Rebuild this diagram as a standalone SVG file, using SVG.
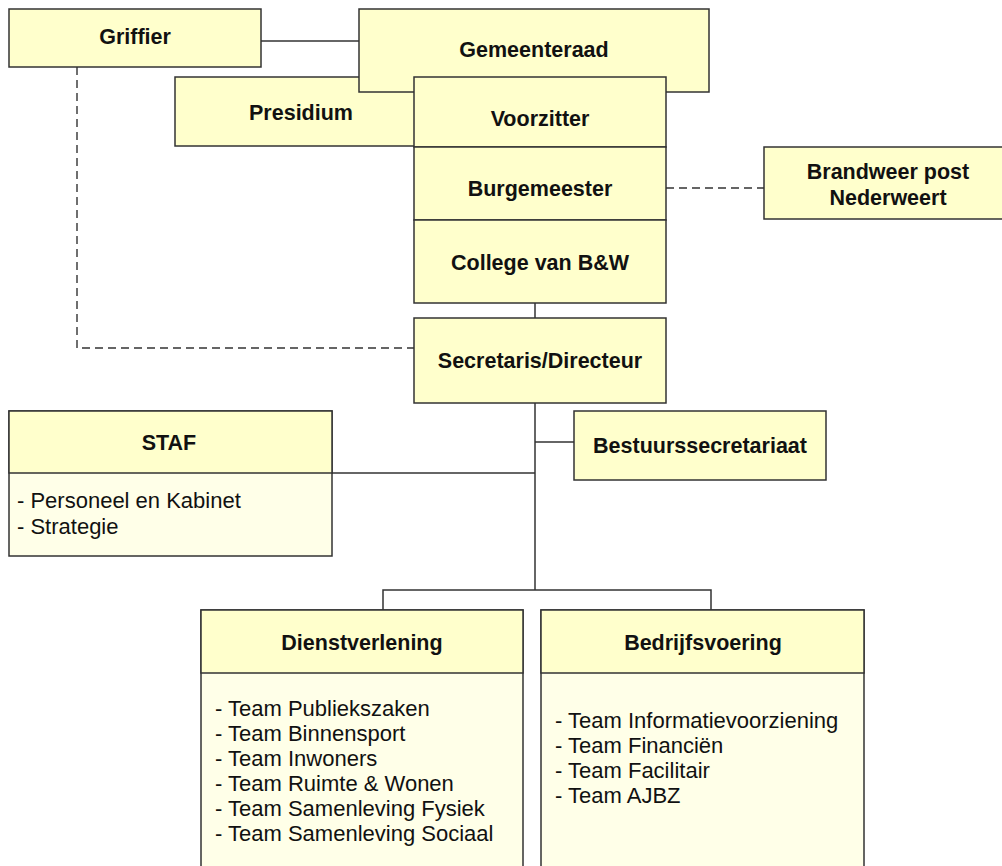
<svg xmlns="http://www.w3.org/2000/svg" width="1002" height="866" viewBox="0 0 1002 866">
<style>
.box{fill:#FFFFCC;stroke:#333;stroke-width:1.5}
.body{fill:#FFFFE8;stroke:#333;stroke-width:1.5}
.t{font-family:"Liberation Sans",Arial,sans-serif;font-size:21.5px;font-weight:bold;fill:#111;text-anchor:middle}
.l{font-family:"Liberation Sans",Arial,sans-serif;font-size:22px;fill:#111}
.c{fill:none;stroke:#333;stroke-width:1.5}
.d{fill:none;stroke:#333;stroke-width:1.4;stroke-dasharray:8,5}
</style>
<rect width="1002" height="866" fill="#fff"/>
<g id="connectors">
<line class="c" x1="261" y1="41" x2="359" y2="41"/>
<path class="d" d="M77,67 V348 H414"/>
<line class="d" x1="666" y1="188" x2="764" y2="188"/>
<line class="c" x1="535" y1="303" x2="535" y2="318"/>
<line class="c" x1="535" y1="403" x2="535" y2="590"/>
<line class="c" x1="332" y1="473" x2="535" y2="473"/>
<line class="c" x1="535" y1="442" x2="574" y2="442"/>
<path class="c" d="M383,610 V590 H711 V610"/>
</g>
<g id="griffier">
<rect class="box" x="9" y="9" width="252" height="58"/>
<text class="t" x="135" y="44">Griffier</text>
</g>
<g id="presidium">
<rect class="box" x="175" y="77" width="255" height="69"/>
<text class="t" x="301" y="119.5">Presidium</text>
</g>
<g id="gemeenteraad">
<rect class="box" x="359" y="9" width="350" height="83"/>
<text class="t" x="534" y="57">Gemeenteraad</text>
</g>
<g id="voorzitter">
<rect class="box" x="414" y="77" width="252" height="70"/>
<text class="t" x="540" y="125.5">Voorzitter</text>
</g>
<g id="burgemeester">
<rect class="box" x="414" y="147" width="252" height="73"/>
<text class="t" x="540" y="195.5">Burgemeester</text>
</g>
<g id="college">
<rect class="box" x="414" y="220" width="252" height="83"/>
<text class="t" x="540" y="269.5">College van B&amp;W</text>
</g>
<g id="brandweer">
<rect class="box" x="764" y="147" width="245" height="72"/>
<text class="t" x="888" y="178.5">Brandweer post</text>
<text class="t" x="888" y="204.5">Nederweert</text>
</g>
<g id="secretaris">
<rect class="box" x="414" y="318" width="252" height="85"/>
<text class="t" x="540" y="368">Secretaris/Directeur</text>
</g>
<g id="staf">
<rect class="body" x="9" y="411" width="323" height="145"/>
<rect class="box" x="9" y="411" width="323" height="62"/>
<text class="t" x="169" y="450">STAF</text>
<text class="l" x="17" y="508">- Personeel en Kabinet</text>
<text class="l" x="17" y="534">- Strategie</text>
</g>
<g id="bestuurssecretariaat">
<rect class="box" x="574" y="411" width="252" height="69"/>
<text class="t" x="700" y="453">Bestuurssecretariaat</text>
</g>
<g id="dienstverlening">
<rect class="body" x="201" y="610" width="322" height="270"/>
<rect class="box" x="201" y="610" width="322" height="63"/>
<text class="t" x="362" y="650">Dienstverlening</text>
<text class="l" x="215" y="716">- Team Publiekszaken</text>
<text class="l" x="215" y="741">- Team Binnensport</text>
<text class="l" x="215" y="766">- Team Inwoners</text>
<text class="l" x="215" y="791">- Team Ruimte &amp; Wonen</text>
<text class="l" x="215" y="816">- Team Samenleving Fysiek</text>
<text class="l" x="215" y="841">- Team Samenleving Sociaal</text>
</g>
<g id="bedrijfsvoering">
<rect class="body" x="541" y="610" width="323" height="270"/>
<rect class="box" x="541" y="610" width="323" height="63"/>
<text class="t" x="703" y="650">Bedrijfsvoering</text>
<text class="l" x="555" y="728">- Team Informatievoorziening</text>
<text class="l" x="555" y="753">- Team Financiën</text>
<text class="l" x="555" y="778">- Team Facilitair</text>
<text class="l" x="555" y="803">- Team AJBZ</text>
</g>
</svg>
